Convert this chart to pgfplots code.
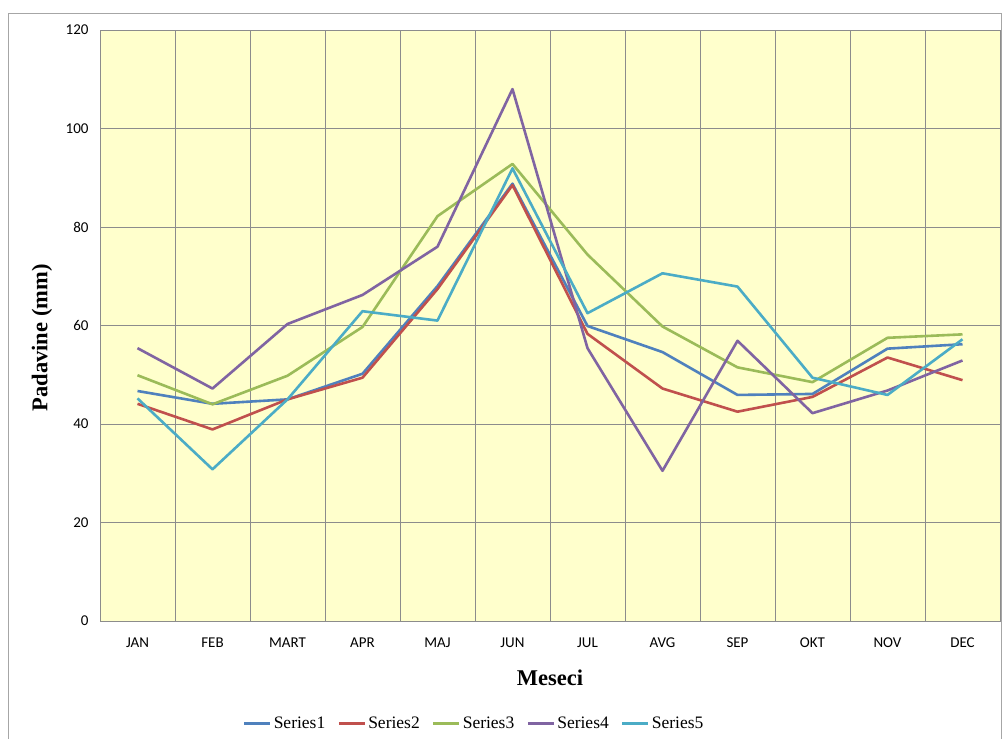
\documentclass[border=0pt]{standalone}
\usepackage{fontspec}
\setmainfont{Liberation Serif}
\newfontfamily\carlito{Carlito}
\usepackage{pgfplots}
\pgfplotsset{compat=1.18}
\definecolor{s1}{HTML}{4F81BD}
\definecolor{s2}{HTML}{C0504D}
\definecolor{s3}{HTML}{9BBB59}
\definecolor{s4}{HTML}{8064A2}
\definecolor{s5}{HTML}{4BACC6}
\definecolor{bgy}{HTML}{FFFFCC}
\definecolor{gridc}{HTML}{8C8C8C}
\begin{document}
\begin{tikzpicture}[x=1pt,y=1pt]
\path[use as bounding box] (0,0) rectangle (1002,739);
\draw[gray!70,line width=1pt] (8,0) -- (8,725.5) -- (1001.5,725.5) -- (1001.5,0);
\begin{axis}[
  at={(100pt,118pt)}, anchor=south west,
  scale only axis, width=900pt, height=591pt,
  xmin=-0.5, xmax=11.5, ymin=0, ymax=120,
  axis background/.style={fill=bgy},
  axis line style={gridc, line width=0.8pt},
  xtick={0,...,11},
  xticklabels={JAN,FEB,MART,APR,MAJ,JUN,JUL,AVG,SEP,OKT,NOV,DEC},
  minor x tick num=1,
  minor x grid style={gridc, line width=0.8pt},
  xminorgrids,
  x tick style={draw=none},
  minor x tick style={draw=none},
  ytick={0,20,...,120},
  ymajorgrids,
  major grid style={gridc, line width=0.8pt},
  y tick style={draw=none},
  xticklabel style={font=\carlito\fontsize{15}{18}\selectfont, yshift=-13pt},
  yticklabel style={font=\carlito\fontsize{15}{18}\selectfont, xshift=-8pt},
  /pgf/number format/assume math mode=true,
  xlabel={\textbf{Meseci}},
  xlabel style={font=\fontsize{22.5}{26}\selectfont, at={(axis description cs:0.5,-0.0964)}, anchor=center},
  ylabel={\textbf{Padavine (mm)}},
  ylabel style={font=\fontsize{22.5}{26}\selectfont, at={(axis description cs:-0.0644,0.479)}, anchor=center, rotate=0},
  legend columns=5,
  legend style={at={(axis description cs:0.4156,-0.1726)}, anchor=center, draw=none, fill=none,
    font=\fontsize{17.5}{20}\selectfont, /tikz/every even column/.append style={column sep=10pt}},
  legend image code/.code={\draw[#1, line width=3pt] (0pt,0pt) -- (26pt,0pt);},
  every axis plot/.append style={line width=2.6pt, mark=none, line join=round},
]
\addplot[s1] coordinates {(0,46.7)(1,44.1)(2,45.0)(3,50.2)(4,68.0)(5,88.8)(6,59.9)(7,54.6)(8,45.9)(9,46.1)(10,55.3)(11,56.2)};
\addlegendentry{Series1}
\addplot[s2] coordinates {(0,44.1)(1,38.9)(2,45.0)(3,49.4)(4,67.4)(5,88.5)(6,58.3)(7,47.2)(8,42.5)(9,45.5)(10,53.5)(11,48.9)};
\addlegendentry{Series2}
\addplot[s3] coordinates {(0,49.9)(1,44.0)(2,49.8)(3,59.7)(4,82.2)(5,92.8)(6,74.4)(7,59.8)(8,51.5)(9,48.5)(10,57.5)(11,58.2)};
\addlegendentry{Series3}
\addplot[s4] coordinates {(0,55.4)(1,47.2)(2,60.3)(3,66.2)(4,76.0)(5,108.0)(6,55.4)(7,30.5)(8,56.9)(9,42.2)(10,46.8)(11,52.9)};
\addlegendentry{Series4}
\addplot[s5] coordinates {(0,45.2)(1,30.8)(2,45.0)(3,62.9)(4,61.0)(5,91.9)(6,62.5)(7,70.6)(8,67.9)(9,49.4)(10,45.9)(11,57.2)};
\addlegendentry{Series5}
\end{axis}
\end{tikzpicture}
\end{document}
